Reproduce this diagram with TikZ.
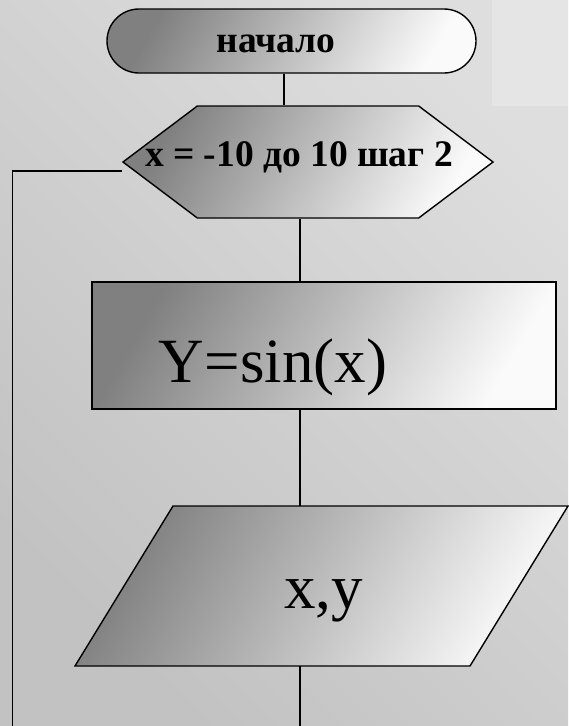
\documentclass[tikz,border=0pt]{standalone}
\usepackage{fontspec}
\setmainfont{Liberation Serif}
\usepackage{tikz}
\usetikzlibrary{shapes.misc,shapes.symbols}

\definecolor{bglight}{gray}{0.87}
\definecolor{bgdark}{gray}{0.76}
\definecolor{cornerfill}{gray}{0.9}
\definecolor{shdark}{gray}{0.5}
\definecolor{shlight}{gray}{0.98}

\begin{document}
\begin{tikzpicture}[x=1pt, y=-1pt,
  shaded/.style={draw, line width=1.4pt, top color=shdark, bottom color=shlight, shading angle=60, inner sep=0pt},
  startstop/.style={shaded, rounded rectangle, minimum width=369pt, minimum height=64pt},
  loopbox/.style={shaded, signal, signal to=west and east, signal pointer angle=74, minimum width=370pt, minimum height=112pt},
  process/.style={shaded, rectangle, minimum width=464pt, minimum height=127pt},
  iobox/.style={rectangle, inner sep=0pt, minimum width=493pt, minimum height=160pt},
  boldtext/.style={font=\fontsize{37.5}{42}\selectfont\bfseries},
  bigtext/.style={font=\fontsize{63}{70}\selectfont},
  line/.style={line width=1.3pt}
]
\useasboundingbox (0,0) rectangle (568,726);
\shade[top color=bglight, bottom color=bgdark, shading angle=-45] (0,0) rectangle (568,726);
\fill[cornerfill] (492,0) rectangle (568,106);

\node[startstop, label={[boldtext, xshift=-15.5pt, yshift=-3pt]center:начало}] (start) at (291.5,41) {};
\node[loopbox, label={[boldtext, xshift=-9pt, yshift=5pt]center:x = -10 до 10 шаг 2}] (loop) at (308,162) {};
\node[process, label={[bigtext, xshift=-51pt, yshift=-22pt]center:Y=sin(x)}] (calc) at (324,345.5) {};
% parallelogram: slanted by 98pt
\path[shaded] (321.5,586) ++(-246.5,80) -- ++(395,0) -- ++(98,-160) -- ++(-395,0) -- cycle;
\node[iobox, label={[bigtext, xshift=2pt, yshift=-15pt]center:{x,y}}] (output) at (321.5,586) {};

\coordinate (exit) at (300,726);
\coordinate (back) at (12.7,726);

\draw[line] ([xshift=-7.5pt]start.south) -- ([xshift=-7.5pt]start.south |- loop.north);
\draw[line] (loop.south -| exit) -- (calc.north -| exit);
\draw[line] (calc.south -| exit) -- (output.north -| exit);
\draw[line] (output.south -| exit) -- (exit);
\draw[line] (back) |- ([yshift=-9pt]loop.west);
\end{tikzpicture}
\end{document}
